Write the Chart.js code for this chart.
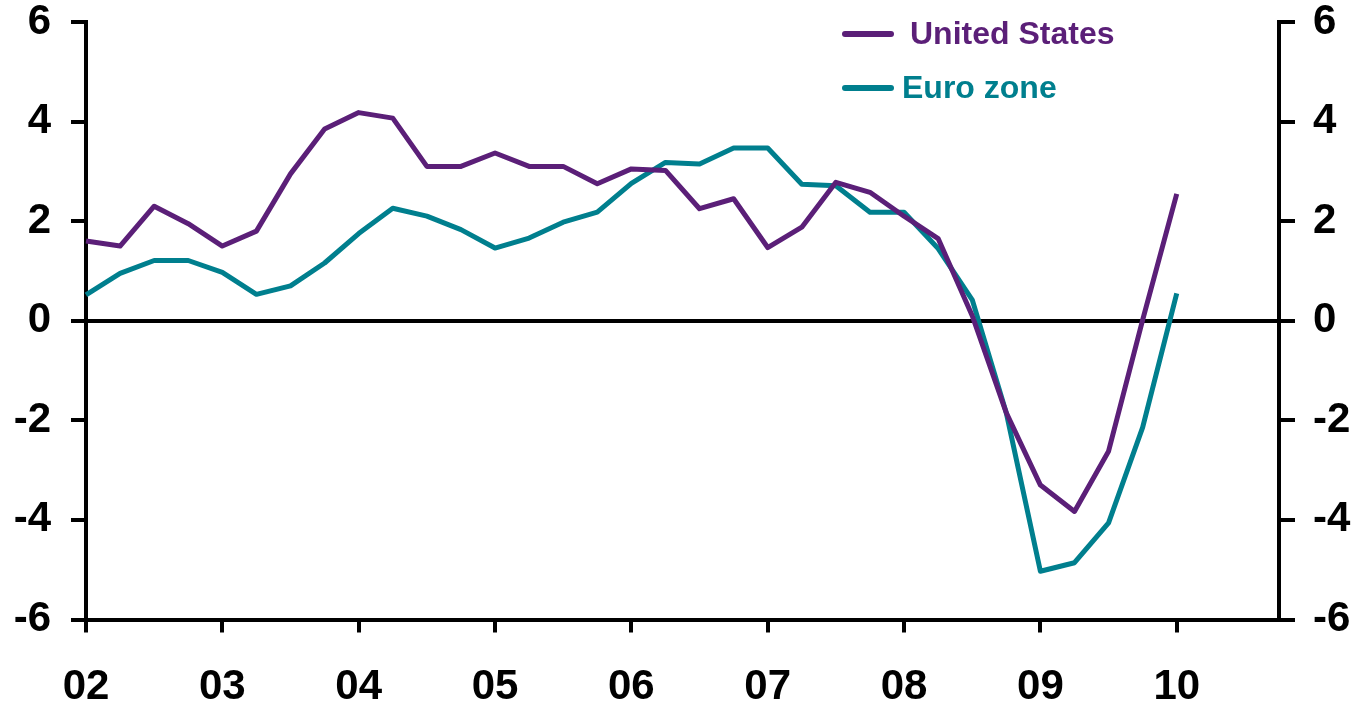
<!DOCTYPE html>
<html>
<head>
<meta charset="utf-8">
<script src="https://cdn.jsdelivr.net/npm/chart.js@4/dist/chart.umd.min.js"></script>
<style>
  html, body { margin: 0; padding: 0; background: #fff; }
  #wrap { width: 1356px; height: 706px; }
</style>
</head>
<body>
<div id="wrap"><canvas id="gdp"></canvas></div>
<script>
// quarterly, 2002Q1 .. 2010Q4 (axis runs to the end of 2010Q3)
const quarters = [];
for (let y = 2002; y <= 2010; y++) {
  for (let q = 1; q <= 4; q++) quarters.push(y + "Q" + q);
}
const axisQuarters = quarters.slice(0, 36);
const yearLabels = ["02", "03", "04", "05", "06", "07", "08", "09", "10"];

const usValues = [1.6, 1.5, 2.3, 1.95, 1.5, 1.8, 2.95, 3.85, 4.18, 4.07, 3.1, 3.1, 3.37,
  3.1, 3.1, 2.75, 3.05, 3.02, 2.25, 2.45, 1.47, 1.88, 2.78, 2.58, 2.1, 1.65, 0.1,
  -1.85, -3.3, -3.83, -2.62, 0.02, 2.55];
const euroValues = [0.52, 0.95, 1.21, 1.21, 0.97, 0.53, 0.7, 1.16, 1.75, 2.26, 2.1, 1.83,
  1.46, 1.66, 1.98, 2.18, 2.76, 3.18, 3.15, 3.47, 3.47, 2.74, 2.71, 2.18, 2.18, 1.45,
  0.42, -1.85, -5.03, -4.86, -4.06, -2.14, 0.55];

const usColor = "#5b1f78";
const euroColor = "#007f8e";
const fontFamily = "'Liberation Sans', Arial, sans-serif";

// legend drawn inside the plot, top right
const insideLegend = {
  id: "insideLegend",
  afterDraw(chart) {
    const ctx = chart.ctx;
    const rows = [
      { lineY: 34, textX: 910 },
      { lineY: 88, textX: 902 }
    ];
    ctx.save();
    ctx.font = "bold 32px " + fontFamily;
    ctx.textBaseline = "middle";
    ctx.lineCap = "round";
    chart.data.datasets.forEach((ds, i) => {
      const r = rows[i];
      ctx.strokeStyle = ds.borderColor;
      ctx.lineWidth = 6;
      ctx.beginPath();
      ctx.moveTo(845, r.lineY);
      ctx.lineTo(891, r.lineY);
      ctx.stroke();
      ctx.fillStyle = ds.borderColor;
      ctx.fillText(ds.label, r.textX, r.lineY + 1);
    });
    ctx.restore();
  }
};

// fixed box for the value axes, so the plot spans y = 22..619
function fitValueAxis(width) {
  return (s) => {
    s.width = width;
    s.paddingTop = 22;
    s.paddingBottom = 0;
  };
}

new Chart(document.getElementById("gdp"), {
  type: "line",
  data: {
    labels: axisQuarters,
    datasets: [
      {
        label: "United States",
        data: usValues,
        borderColor: usColor,
        borderWidth: 5,
        pointRadius: 0,
        tension: 0,
        borderJoinStyle: "round",
        yAxisID: "y"
      },
      {
        label: "Euro zone",
        data: euroValues,
        borderColor: euroColor,
        borderWidth: 5,
        pointRadius: 0,
        tension: 0,
        borderJoinStyle: "round",
        yAxisID: "y"
      }
    ]
  },
  options: {
    responsive: true,
    maintainAspectRatio: false,
    animation: false,
    layout: { padding: 0 },
    plugins: {
      legend: { display: false },
      tooltip: { enabled: false }
    },
    scales: {
      x: {
        type: "category",
        offset: false,
        afterFit: (s) => { s.height = 86.5; },
        border: { display: true, color: "#000", width: 4 },
        grid: {
          drawOnChartArea: false,
          tickLength: 13,
          lineWidth: 4,
          color: (c) => (c.index % 4 === 0 ? "#000" : "rgba(0,0,0,0)"),
          tickColor: (c) => (c.index % 4 === 0 ? "#000" : "rgba(0,0,0,0)")
        },
        ticks: {
          autoSkip: false,
          maxRotation: 0,
          padding: 30,
          color: "#000",
          font: { family: fontFamily, size: 42, weight: "bold" },
          callback: (v, i) => (i % 4 === 0 ? yearLabels[i / 4] : "")
        }
      },
      y: {
        position: "left",
        min: -6,
        max: 6,
        afterFit: fitValueAxis(86),
        border: { display: true, color: "#000", width: 4 },
        grid: {
          drawOnChartArea: true,
          tickLength: 15,
          lineWidth: 4,
          color: (c) => (c.tick && c.tick.value === 0 ? "#000" : "rgba(0,0,0,0)"),
          tickColor: "#000"
        },
        ticks: {
          stepSize: 2,
          padding: 20,
          color: "#000",
          font: { family: fontFamily, size: 42, weight: "bold" }
        }
      },
      y2: {
        position: "right",
        min: -6,
        max: 6,
        afterFit: fitValueAxis(77),
        border: { display: true, color: "#000", width: 4 },
        grid: {
          drawOnChartArea: false,
          tickLength: 16,
          lineWidth: 4,
          color: "#000"
        },
        ticks: {
          stepSize: 2,
          padding: 18,
          color: "#000",
          font: { family: fontFamily, size: 42, weight: "bold" }
        }
      }
    }
  },
  plugins: [insideLegend]
});
</script>
</body>
</html>
